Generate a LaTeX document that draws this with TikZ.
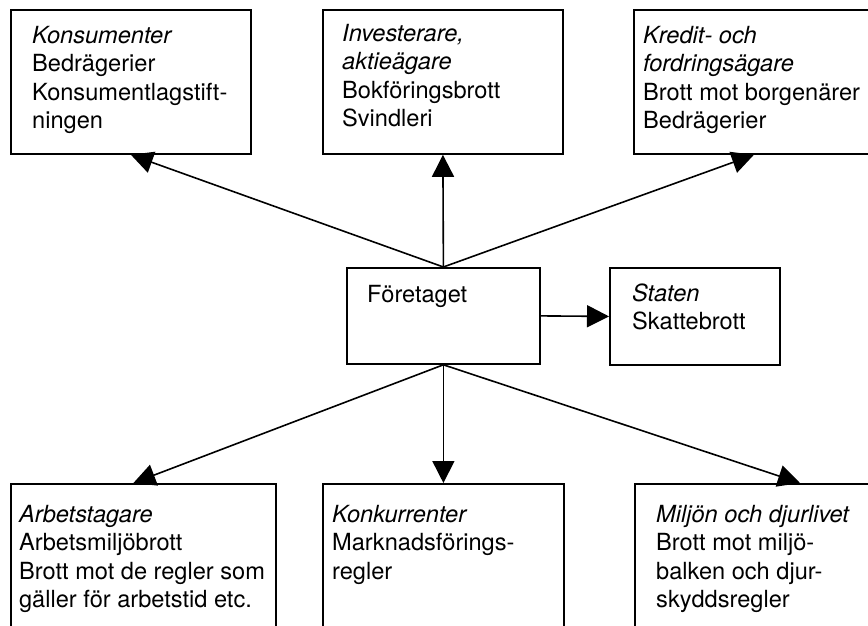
\documentclass[tikz,border=0pt]{standalone}
\usepackage{fontspec}
\setmainfont{TeX Gyre Heros}
\usetikzlibrary{arrows.meta}
\tikzset{
  box/.style={draw, line width=1.8pt, anchor=north west, inner sep=0pt},
  txt/.style={anchor=north west, inner sep=0pt, align=left, font=\fontsize{23.6}{28.5}\selectfont},
  conn/.style={line width=1.6pt, -{Triangle[length=22pt,width=22pt]}}
}
\begin{document}
\begin{tikzpicture}[x=1pt,y=-1pt]
\useasboundingbox (0,0) rectangle (868,626);
\clip (0,0) rectangle (868,626);
% boxes
\node[box, minimum width=240pt, minimum height=144pt] (kons) at (10,9) {};
\node[box, minimum width=240pt, minimum height=144pt] (inv) at (322,9) {};
\node[box, minimum width=240pt, minimum height=144pt] (kred) at (633,9) {};
\node[box, minimum width=193pt, minimum height=96pt] (fore) at (346,267) {};
\node[box, minimum width=170pt, minimum height=97pt] (stat) at (609,267) {};
\node[box, minimum width=265pt, minimum height=170pt] (arb) at (10,483) {};
\node[box, minimum width=241pt, minimum height=170pt] (konk) at (322,483) {};
\node[box, minimum width=240pt, minimum height=170pt] (milj) at (634,483) {};
% texts
\node[txt] (tkons) at (32,23) {\strut\textit{Konsumenter}\\Bedrägerier\\Konsumentlagstift-\\ningen};
\node[txt] (tinv) at (342,21) {\strut\textit{Investerare,}\\\textit{aktieägare}\\Bokföringsbrott\\Svindleri};
\node[txt] (tkred) at (643,23) {\strut\textit{Kredit- och}\\\textit{fordringsägare}\\Brott mot borgenärer\\Bedrägerier};
\node[txt] (tfore) at (367,282) {\strut Företaget};
\node[txt] (tstat) at (632,281) {\strut\textit{Staten}\\Skattebrott};
\node[txt] (tarb) at (19,502) {\strut\textit{Arbetstagare}\\Arbetsmiljöbrott\\Brott mot de regler som\\gäller för arbetstid etc.};
\node[txt] (tkonk) at (332,502) {\strut\textit{Konkurrenter}\\Marknadsförings-\\regler};
\node[txt] (tmilj) at (656,502) {\strut\textit{Miljön och djurlivet}\\Brott mot miljö-\\balken och djur-\\skyddsregler};
% connectors
\draw[conn] (fore.north) -- (kons.south);
\draw[conn] (fore.north) -- (inv.south);
\draw[conn] (fore.north) -- (kred.south);
\draw[conn] (fore.east) -- (stat.west);
\draw[conn] (fore.south) -- ([xshift=-10pt]arb.north);
\draw[conn] (fore.south) -- (konk.north);
\draw[conn] (fore.south) -- ([xshift=166pt]milj.north west);
\end{tikzpicture}
\end{document}
